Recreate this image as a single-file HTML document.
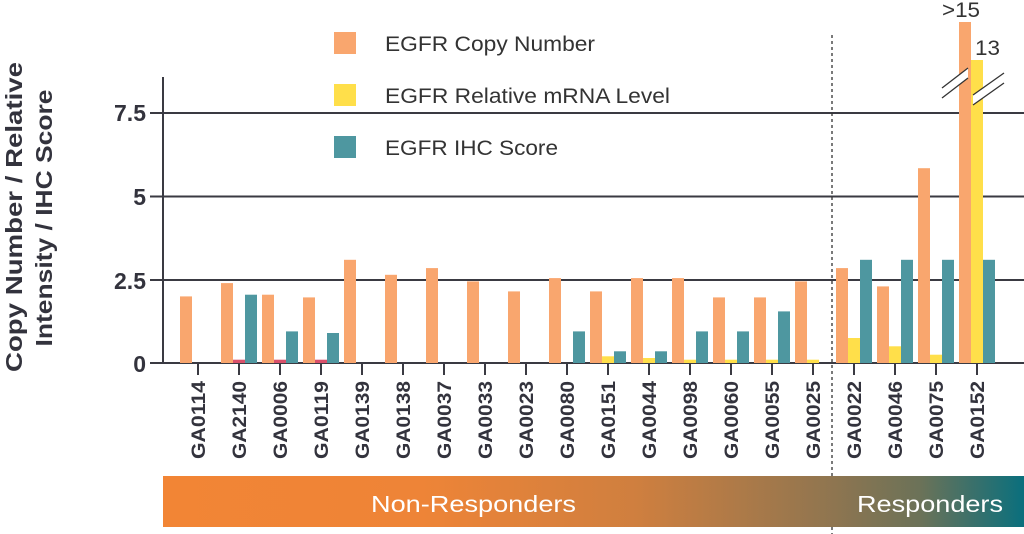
<!DOCTYPE html>
<html><head><meta charset="utf-8"><style>
html,body{margin:0;padding:0;background:#fff;}
svg{display:block;font-family:"Liberation Sans",Arial,sans-serif;}
</style></head><body>
<svg width="1024" height="534" viewBox="0 0 1024 534" xmlns="http://www.w3.org/2000/svg">
<defs>
<linearGradient id="g" x1="0" x2="1" y1="0" y2="0">
<stop offset="0" stop-color="#f28535"/>
<stop offset="0.3" stop-color="#ee8437"/>
<stop offset="0.55" stop-color="#cf7f3f"/>
<stop offset="0.78" stop-color="#8e7550"/>
<stop offset="0.88" stop-color="#6b7258"/>
<stop offset="1" stop-color="#0a6f7d"/>
</linearGradient>
</defs>
<g stroke="#3a3a42" stroke-width="2">
<line x1="150" y1="113" x2="1024" y2="113"/>
<line x1="150" y1="196.5" x2="1024" y2="196.5"/>
<line x1="150" y1="280" x2="1024" y2="280"/>
<line x1="150" y1="363" x2="1024" y2="363"/>
<line x1="163" y1="77" x2="163" y2="363"/>
</g>
<g font-weight="bold" font-size="23" fill="#33333d" text-anchor="end">
<text x="146" y="121">7.5</text>
<text x="146" y="205">5</text>
<text x="146" y="289">2.5</text>
<text x="146" y="372">0</text>
</g>
<g font-weight="bold" font-size="23" fill="#33333d" text-anchor="middle">
<text transform="translate(22,217) rotate(-90)" textLength="310" lengthAdjust="spacingAndGlyphs">Copy Number / Relative</text>
<text transform="translate(52,218) rotate(-90)" textLength="257" lengthAdjust="spacingAndGlyphs">Intensity / IHC Score</text>
</g>
<rect x="334" y="32" width="22" height="22" fill="#f9a66e"/>
<rect x="334" y="84" width="22" height="22" fill="#ffdf4a"/>
<rect x="334" y="136" width="22" height="22" fill="#4e97a0"/>
<g font-size="21" fill="#333" lengthAdjust="spacingAndGlyphs">
<text x="385" y="51" textLength="210" lengthAdjust="spacingAndGlyphs">EGFR Copy Number</text>
<text x="385" y="103" textLength="285" lengthAdjust="spacingAndGlyphs">EGFR Relative mRNA Level</text>
<text x="385" y="155" textLength="173" lengthAdjust="spacingAndGlyphs">EGFR IHC Score</text>
</g>
<g fill="#f9a66e">
<rect x="180" y="296.4" width="12" height="66.6"/>
<rect x="221" y="283.1" width="12" height="79.9"/>
<rect x="262" y="294.7" width="12" height="68.3"/>
<rect x="303" y="297.4" width="12" height="65.6"/>
<rect x="344" y="259.8" width="12" height="103.2"/>
<rect x="385" y="274.8" width="12" height="88.2"/>
<rect x="426" y="268.1" width="12" height="94.9"/>
<rect x="467" y="281.4" width="12" height="81.6"/>
<rect x="508" y="291.4" width="12" height="71.6"/>
<rect x="549" y="278.1" width="12" height="84.9"/>
<rect x="590" y="291.4" width="12" height="71.6"/>
<rect x="631" y="278.1" width="12" height="84.9"/>
<rect x="672" y="278.1" width="12" height="84.9"/>
<rect x="713" y="297.4" width="12" height="65.6"/>
<rect x="754" y="297.4" width="12" height="65.6"/>
<rect x="795" y="281.4" width="12" height="81.6"/>
<rect x="836" y="268.1" width="12" height="94.9"/>
<rect x="877" y="286.4" width="12" height="76.6"/>
<rect x="918" y="168.2" width="12" height="194.8"/>
<rect x="959" y="22" width="12" height="341"/>
</g>
<g fill="#d9506a">
<rect x="233" y="359.7" width="12" height="3.3"/>
<rect x="274" y="359.7" width="12" height="3.3"/>
<rect x="315" y="359.7" width="12" height="3.3"/>
</g>
<g fill="#ffdf4a">
<rect x="602" y="356.3" width="12" height="6.7"/>
<rect x="643" y="358" width="12" height="5"/>
<rect x="684" y="359.7" width="12" height="3.3"/>
<rect x="725" y="359.7" width="12" height="3.3"/>
<rect x="766" y="359.7" width="12" height="3.3"/>
<rect x="807" y="359.7" width="12" height="3.3"/>
<rect x="848" y="338" width="12" height="25"/>
<rect x="889" y="346.3" width="12" height="16.7"/>
<rect x="930" y="354.7" width="12" height="8.3"/>
<rect x="971" y="60" width="12" height="303"/>
</g>
<g fill="#4e97a0">
<rect x="245" y="294.7" width="12" height="68.3"/>
<rect x="286" y="331.4" width="12" height="31.6"/>
<rect x="327" y="333" width="12" height="30"/>
<rect x="573" y="331.4" width="12" height="31.6"/>
<rect x="614" y="351.3" width="12" height="11.7"/>
<rect x="655" y="351.3" width="12" height="11.7"/>
<rect x="696" y="331.4" width="12" height="31.6"/>
<rect x="737" y="331.4" width="12" height="31.6"/>
<rect x="778" y="311.4" width="12" height="51.6"/>
<rect x="860" y="259.8" width="12" height="103.2"/>
<rect x="901" y="259.8" width="12" height="103.2"/>
<rect x="942" y="259.8" width="12" height="103.2"/>
<rect x="983" y="259.8" width="12" height="103.2"/>
</g>
<g stroke="#3a3a42" stroke-width="2">
<line x1="198" y1="363" x2="198" y2="375"/><line x1="239" y1="363" x2="239" y2="375"/>
<line x1="280" y1="363" x2="280" y2="375"/><line x1="321" y1="363" x2="321" y2="375"/>
<line x1="362" y1="363" x2="362" y2="375"/><line x1="403" y1="363" x2="403" y2="375"/>
<line x1="444" y1="363" x2="444" y2="375"/><line x1="485" y1="363" x2="485" y2="375"/>
<line x1="526" y1="363" x2="526" y2="375"/><line x1="567" y1="363" x2="567" y2="375"/>
<line x1="608" y1="363" x2="608" y2="375"/><line x1="649" y1="363" x2="649" y2="375"/>
<line x1="690" y1="363" x2="690" y2="375"/><line x1="731" y1="363" x2="731" y2="375"/>
<line x1="772" y1="363" x2="772" y2="375"/><line x1="813" y1="363" x2="813" y2="375"/>
<line x1="854" y1="363" x2="854" y2="375"/><line x1="895" y1="363" x2="895" y2="375"/>
<line x1="936" y1="363" x2="936" y2="375"/><line x1="977" y1="363" x2="977" y2="375"/>
</g>
<g font-size="19" font-weight="bold" fill="#33333d">
<text transform="translate(205,459) rotate(-90)" textLength="78" lengthAdjust="spacingAndGlyphs">GA0114</text>
<text transform="translate(246,459) rotate(-90)" textLength="78" lengthAdjust="spacingAndGlyphs">GA2140</text>
<text transform="translate(287,459) rotate(-90)" textLength="78" lengthAdjust="spacingAndGlyphs">GA0006</text>
<text transform="translate(328,459) rotate(-90)" textLength="78" lengthAdjust="spacingAndGlyphs">GA0119</text>
<text transform="translate(369,459) rotate(-90)" textLength="78" lengthAdjust="spacingAndGlyphs">GA0139</text>
<text transform="translate(410,459) rotate(-90)" textLength="78" lengthAdjust="spacingAndGlyphs">GA0138</text>
<text transform="translate(451,459) rotate(-90)" textLength="78" lengthAdjust="spacingAndGlyphs">GA0037</text>
<text transform="translate(492,459) rotate(-90)" textLength="78" lengthAdjust="spacingAndGlyphs">GA0033</text>
<text transform="translate(533,459) rotate(-90)" textLength="78" lengthAdjust="spacingAndGlyphs">GA0023</text>
<text transform="translate(574,459) rotate(-90)" textLength="78" lengthAdjust="spacingAndGlyphs">GA0080</text>
<text transform="translate(615,459) rotate(-90)" textLength="78" lengthAdjust="spacingAndGlyphs">GA0151</text>
<text transform="translate(656,459) rotate(-90)" textLength="78" lengthAdjust="spacingAndGlyphs">GA0044</text>
<text transform="translate(697,459) rotate(-90)" textLength="78" lengthAdjust="spacingAndGlyphs">GA0098</text>
<text transform="translate(738,459) rotate(-90)" textLength="78" lengthAdjust="spacingAndGlyphs">GA0060</text>
<text transform="translate(779,459) rotate(-90)" textLength="78" lengthAdjust="spacingAndGlyphs">GA0055</text>
<text transform="translate(820,459) rotate(-90)" textLength="78" lengthAdjust="spacingAndGlyphs">GA0025</text>
<text transform="translate(861,459) rotate(-90)" textLength="78" lengthAdjust="spacingAndGlyphs">GA0022</text>
<text transform="translate(902,459) rotate(-90)" textLength="78" lengthAdjust="spacingAndGlyphs">GA0046</text>
<text transform="translate(943,459) rotate(-90)" textLength="78" lengthAdjust="spacingAndGlyphs">GA0075</text>
<text transform="translate(984,459) rotate(-90)" textLength="78" lengthAdjust="spacingAndGlyphs">GA0152</text>
</g>
<polygon points="942,88 968,68 968,78 942,98" fill="#fff"/>
<line x1="942" y1="88" x2="968" y2="68" stroke="#333" stroke-width="1.3"/>
<line x1="942" y1="98" x2="968" y2="78" stroke="#333" stroke-width="1.3"/>
<polygon points="973,95 1004,73 1004,83 973,105" fill="#fff"/>
<line x1="973" y1="95" x2="1004" y2="73" stroke="#333" stroke-width="1.3"/>
<line x1="973" y1="105" x2="1004" y2="83" stroke="#333" stroke-width="1.3"/>
<text x="942" y="17" font-size="21" fill="#333" textLength="38" lengthAdjust="spacingAndGlyphs">&gt;15</text>
<text x="975" y="55" font-size="21" fill="#333" textLength="25" lengthAdjust="spacingAndGlyphs">13</text>
<line x1="832" y1="35" x2="832" y2="534" stroke="#333" stroke-width="1.3" stroke-dasharray="3,3"/>
<rect x="163" y="476" width="861" height="51" fill="url(#g)"/>
<text x="371" y="512" font-size="23" fill="#fff" textLength="205" lengthAdjust="spacingAndGlyphs">Non-Responders</text>
<text x="857" y="512" font-size="23" fill="#fff" textLength="146" lengthAdjust="spacingAndGlyphs">Responders</text>
</svg>
</body></html>
